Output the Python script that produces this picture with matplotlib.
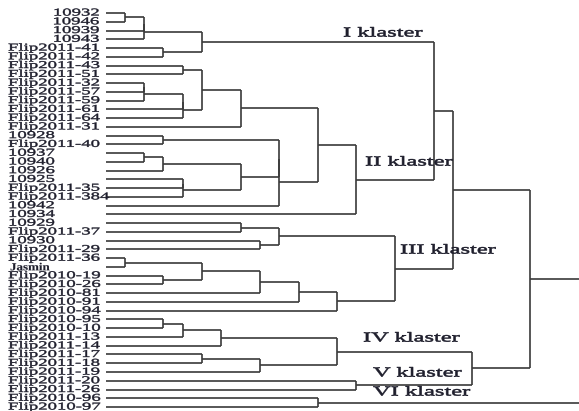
import matplotlib
matplotlib.use("Agg")
import matplotlib.pyplot as plt
from matplotlib import patheffects
from matplotlib.transforms import Affine2D, blended_transform_factory
from matplotlib.collections import LineCollection

# ---------------- data ----------------
leaf_labels = [
    "10932", "10946", "10939", "10943", "Flip2011-41", "Flip2011-42",
    "Flip2011-43", "Flip2011-51", "Flip2011-32", "Flip2011-57", "Flip2011-59",
    "Flip2011-61", "Flip2011-64", "Flip2011-31", "10928", "Flip2011-40",
    "10937", "10940", "10926", "10925", "Flip2011-35", "Flip2011-384",
    "10942", "10934", "10929", "Flip2011-37", "10930", "Flip2011-29",
    "Flip2011-36", "Jasmin", "Flip2010-19", "Flip2010-26", "Flip2010-81",
    "Flip2010-91", "Flip2010-94", "Flip2010-95", "Flip2010-10", "Flip2011-13",
    "Flip2011-14", "Flip2011-17", "Flip2011-18", "Flip2011-19", "Flip2011-20",
    "Flip2011-26", "Flip2010-96", "Flip2010-97",
]

# linkage (scipy-style ids: leaves 0..45, merged cluster k -> 46+k)
merge_left = [0, 46, 47, 4, 48, 6, 8, 52, 53, 54, 51, 56, 14, 16, 59, 19, 61,
              60, 58, 64, 57, 66, 50, 24, 26, 69, 28, 30, 72, 74, 75, 76, 71,
              68, 35, 80, 81, 39, 83, 82, 42, 85, 79, 44, 88]
merge_right = [1, 2, 3, 5, 49, 7, 9, 10, 11, 12, 55, 13, 15, 17, 18, 20, 21,
               62, 63, 22, 65, 23, 67, 25, 27, 70, 29, 31, 73, 32, 33, 34, 77,
               78, 36, 37, 38, 40, 41, 84, 43, 86, 87, 45, 89]
# rescaled distance (0-25)
merge_level = [1, 2, 2, 3, 5, 4, 2, 2, 4, 4, 5, 7, 3, 2, 3, 4, 4,
               7, 9, 9, 11, 13, 17, 7, 8, 9, 1, 3, 5, 8, 10, 12, 15,
               18, 3, 4, 6, 5, 8, 12, 13, 19, 22, 11, 25]

cluster_names = ["I klaster", "II klaster", "III klaster",
                 "IV klaster", "V klaster", "VI klaster"]

# ---------------- helpers ----------------
class StretchX(patheffects.AbstractPathEffect):
    """Horizontally stretch text glyphs (the scanned figure is widened)."""
    def __init__(self, sx, anchor="left", stroke=0.3):
        super().__init__()
        self.sx = sx
        self.anchor = anchor
        self.stroke = stroke

    def draw_path(self, renderer, gc, tpath, affine, rgbFace=None):
        if self.anchor == "right":
            w = tpath.get_extents().x1
            pre = Affine2D().translate(-w, 0).scale(self.sx, 1).translate(w, 0)
        else:
            pre = Affine2D().scale(self.sx, 1)
        gc0 = renderer.new_gc()
        gc0.copy_properties(gc)
        if rgbFace is not None and self.stroke > 0:
            gc0.set_foreground(rgbFace)
            gc0.set_linewidth(self.stroke)
        renderer.draw_path(gc0, tpath, pre + affine, rgbFace)
        gc0.restore()


# ---------------- figure ----------------
W, H = 579, 411
fig = plt.figure(figsize=(W / 100, H / 100), dpi=100)
ax = fig.add_axes([0, 0, 1, 1])
ax.axis("off")

n = len(leaf_labels)
pos = {i: (float(i), 0.0) for i in range(n)}  # id -> (y, height)
segs = []
for k, (a, b, h) in enumerate(zip(merge_left, merge_right, merge_level)):
    ya, ha = pos[a]
    yb, hb = pos[b]
    segs.append([(ha, ya), (h, ya)])
    segs.append([(h, ya), (h, yb)])
    segs.append([(hb, yb), (h, yb)])
    pos[n + k] = ((ya + yb) / 2.0, float(h))

line_color = "#3a3a3a"
ax.add_collection(LineCollection(segs, colors=line_color, linewidths=1.2,
                                 capstyle="butt"))

# scale: level 0 at px 105.5, 19.3 px per level; leaves 8.756 px apart from y=13
px0, pxs = 105.5, 19.3
py0, pys = 13.0, 8.756
ax.set_xlim(-px0 / pxs, (W - px0) / pxs)
ax.set_ylim((H - py0) / pys, -py0 / pys)

text_color = "#1e1e2c"
serif = ["Liberation Serif", "DejaVu Serif"]
trans = blended_transform_factory(ax.transAxes, ax.transData)
for i, lab in enumerate(leaf_labels):
    if i < 4:
        ax.text(99 / W, i, lab, transform=trans, ha="right", va="center",
                fontsize=7.5, family=serif, color=text_color,
                path_effects=[StretchX(1.8, "right")])
    elif lab == "Jasmin":
        ax.text(10 / W, i + 0.1, lab, transform=trans, ha="left", va="center",
                fontsize=7.8, family=serif, weight="bold", color=text_color,
                path_effects=[StretchX(1.2, "left", 0.1)])
    else:
        ax.text(8 / W, i, lab, transform=trans, ha="left", va="center",
                fontsize=7.5, family=serif, color=text_color,
                path_effects=[StretchX(1.8, "left")])

# cluster annotations (pixel anchors of the scanned figure)
name_px = [(343, 33), (365, 162), (400, 250), (363, 338), (373, 373), (373, 392)]
for name, (px, py) in zip(cluster_names, name_px):
    ax.text((px - px0) / pxs, (py - py0) / pys, name, ha="left", va="center",
            fontsize=9.8, family=serif, color=text_color,
            path_effects=[StretchX(1.8, "left", 0.4)])

fig.savefig("out.png", dpi=100)
